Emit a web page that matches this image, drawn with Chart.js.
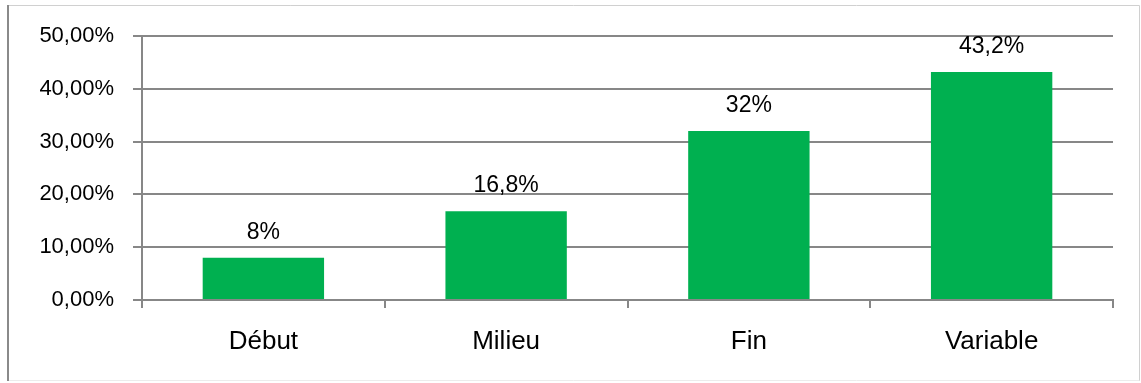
<!DOCTYPE html>
<html>
<head>
<meta charset="utf-8">
<script src="https://cdn.jsdelivr.net/npm/chart.js@4/dist/chart.umd.min.js"></script>
<style>
  html, body { margin: 0; padding: 0; background: #ffffff; }
  #wrap { position: relative; width: 1141px; height: 383px; }
</style>
</head>
<body>
<div id="wrap"><canvas id="c" width="1141" height="383"></canvas></div>
<script>
// Share of responses by position
const categories = ['Début', 'Milieu', 'Fin', 'Variable'];
const shares = [8, 16.8, 32, 43.2];
const yTicks = [0, 10, 20, 30, 40, 50];

const AXIS_GREY = '#878787';
const BAR_GREEN = '#00B050';
const FONT = '"Liberation Sans", Arial, sans-serif';

const frenchNumber = (v, digits) =>
  (digits === undefined ? String(v) : v.toFixed(digits)).replace('.', ',');

// Frame drawn round the whole figure
const framePlugin = {
  id: 'frame',
  afterDraw(chart) {
    const ctx = chart.ctx;
    ctx.save();
    ctx.lineWidth = 1;
    ctx.strokeStyle = '#d0d0d0';
    ctx.beginPath();
    ctx.moveTo(8, 5.5); ctx.lineTo(1139.5, 5.5);
    ctx.moveTo(1139.5, 5.5); ctx.lineTo(1139.5, 381);
    ctx.stroke();
    ctx.strokeStyle = '#ececec';
    ctx.beginPath();
    ctx.moveTo(8, 380.5); ctx.lineTo(1139.5, 380.5);
    ctx.stroke();
    ctx.strokeStyle = '#8a8a8a';
    ctx.lineWidth = 2;
    ctx.beginPath();
    ctx.moveTo(8, 5); ctx.lineTo(8, 381);
    ctx.stroke();
    ctx.restore();
  }
};

// Percent label above each bar
const valueLabels = {
  id: 'valueLabels',
  afterDatasetsDraw(chart) {
    const ctx = chart.ctx;
    const meta = chart.getDatasetMeta(0);
    ctx.save();
    ctx.font = '23px ' + FONT;
    ctx.fillStyle = '#000000';
    ctx.textAlign = 'center';
    ctx.textBaseline = 'alphabetic';
    meta.data.forEach((bar, i) => {
      const v = chart.data.datasets[0].data[i];
      ctx.fillText(frenchNumber(v) + '%', bar.x, bar.y - 19);
    });
    ctx.restore();
  }
};

new Chart(document.getElementById('c'), {
  type: 'bar',
  data: {
    labels: categories,
    datasets: [{
      data: shares,
      backgroundColor: BAR_GREEN,
      borderWidth: 0,
      barPercentage: 0.5,
      categoryPercentage: 1.0
    }]
  },
  options: {
    responsive: false,
    animation: false,
    events: [],
    layout: { padding: { left: 0, right: 28, top: 36, bottom: 0 } },
    plugins: { legend: { display: false }, tooltip: { enabled: false } },
    scales: {
      x: {
        grid: {
          display: true,
          drawOnChartArea: false,
          drawTicks: true,
          tickLength: 8,
          color: AXIS_GREY,
          lineWidth: 2,
          offset: true
        },
        border: { display: true, color: AXIS_GREY, width: 2 },
        ticks: {
          color: '#000000',
          font: { family: FONT, size: 26 },
          padding: 18,
          maxRotation: 0
        },
        afterFit(scale) { scale.height = 83; }
      },
      y: {
        min: 0,
        max: 50,
        afterBuildTicks(scale) { scale.ticks = yTicks.map(v => ({ value: v })); },
        grid: {
          color: AXIS_GREY,
          lineWidth: 2,
          drawTicks: true,
          tickLength: 9
        },
        border: { display: true, color: AXIS_GREY, width: 2 },
        ticks: {
          color: '#000000',
          font: { family: FONT, size: 22 },
          padding: 19,
          callback: v => frenchNumber(v, 2) + '%'
        },
        afterFit(scale) { scale.width = 142; }
      }
    }
  },
  plugins: [framePlugin, valueLabels]
});
</script>
</body>
</html>
